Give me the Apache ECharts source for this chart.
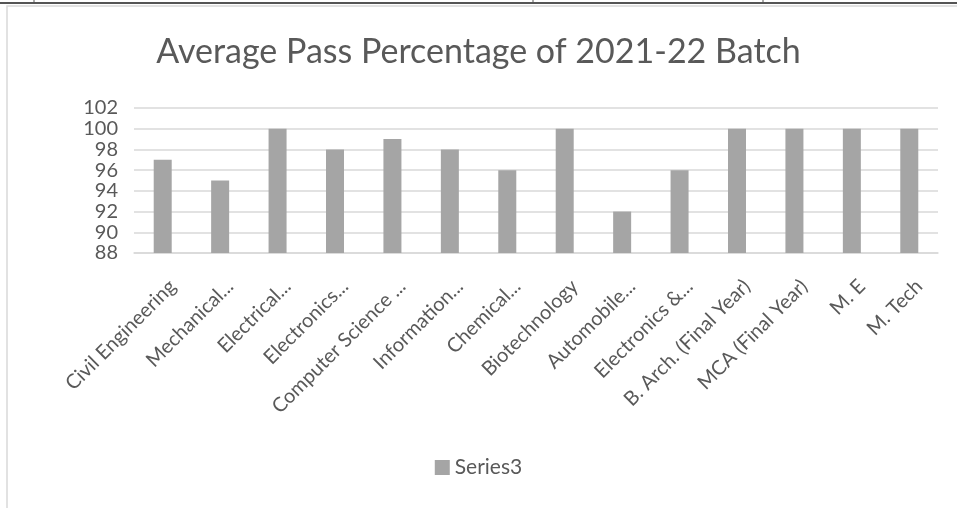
<!DOCTYPE html>
<html>
<head>
<meta charset="utf-8">
<script src="https://cdn.jsdelivr.net/npm/echarts@6/dist/echarts.min.js"></script>
<style>
html,body{margin:0;padding:0;background:#fff;}
#chart{width:957px;height:508px;}
</style>
</head>
<body>
<div id="chart"></div>
<script>
const titleText = 'Average Pass Percentage of 2021-22 Batch';
const categories = ['Civil Engineering', 'Mechanical...', 'Electrical...', 'Electronics...', 'Computer Science ...', 'Information...', 'Chemical...', 'Biotechnology', 'Automobile...', 'Electronics &...', 'B. Arch. (Final Year)', 'MCA (Final Year)', 'M. E', 'M. Tech'];
const seriesName = 'Series3';
const values = [97, 95, 100, 98, 99, 98, 96, 100, 92, 96, 100, 100, 100, 100];
const yMin = 88, yMax = 102, yStep = 2;

const chart = echarts.init(document.getElementById('chart'), null, {renderer: 'canvas'});
const font = 'Lato, "Open Sans", sans-serif';
chart.setOption({
  animation: false,
  backgroundColor: '#fff',
  title: {
    text: titleText,
    left: 'center',
    top: 30,
    textStyle: {fontFamily: font, fontSize: 34, fontWeight: 'normal', color: '#595959'}
  },
  legend: {
    data: [{name: seriesName, icon: 'rect'}],
    bottom: 25,
    left: 'center',
    itemWidth: 15,
    itemHeight: 15,
    itemGap: 9,
    textStyle: {fontFamily: font, fontSize: 21, color: '#595959'}
  },
  grid: {left: 134, right: 19, top: 108, bottom: 255, containLabel: false},
  xAxis: {
    type: 'category',
    data: categories,
    axisLine: {show: true, lineStyle: {color: '#d9d9d9', width: 1.5}},
    axisTick: {show: false},
    axisLabel: {
      rotate: 45,
      interval: 0,
      margin: 40,
      padding: [0, -14, 0, 0],
      fontFamily: font,
      fontSize: 20,
      color: '#595959'
    }
  },
  yAxis: {
    type: 'value',
    min: yMin,
    max: yMax,
    interval: yStep,
    axisLine: {show: false},
    axisTick: {show: false},
    splitLine: {lineStyle: {color: '#d9d9d9', width: 1.5}},
    axisLabel: {fontFamily: font, fontSize: 20, color: '#595959', margin: 16}
  },
  series: [{
    name: seriesName,
    type: 'bar',
    data: values,
    barWidth: 18,
    itemStyle: {color: '#a5a5a5'}
  }],
  graphic: [
    {type: 'rect', shape: {x: 7, y: 6, width: 960, height: 520}, style: {fill: 'none', stroke: '#d9d9d9', lineWidth: 1.5}, silent: true},
    {type: 'line', shape: {x1: 0, y1: 3, x2: 957, y2: 3}, style: {stroke: '#555', lineWidth: 2}, silent: true},
    {type: 'line', shape: {x1: 34, y1: 0, x2: 34, y2: 4}, style: {stroke: '#555', lineWidth: 1}, silent: true},
    {type: 'line', shape: {x1: 533, y1: 0, x2: 533, y2: 4}, style: {stroke: '#555', lineWidth: 1}, silent: true},
    {type: 'line', shape: {x1: 763, y1: 0, x2: 763, y2: 4}, style: {stroke: '#555', lineWidth: 1}, silent: true}
  ]
});
</script>
</body>
</html>
